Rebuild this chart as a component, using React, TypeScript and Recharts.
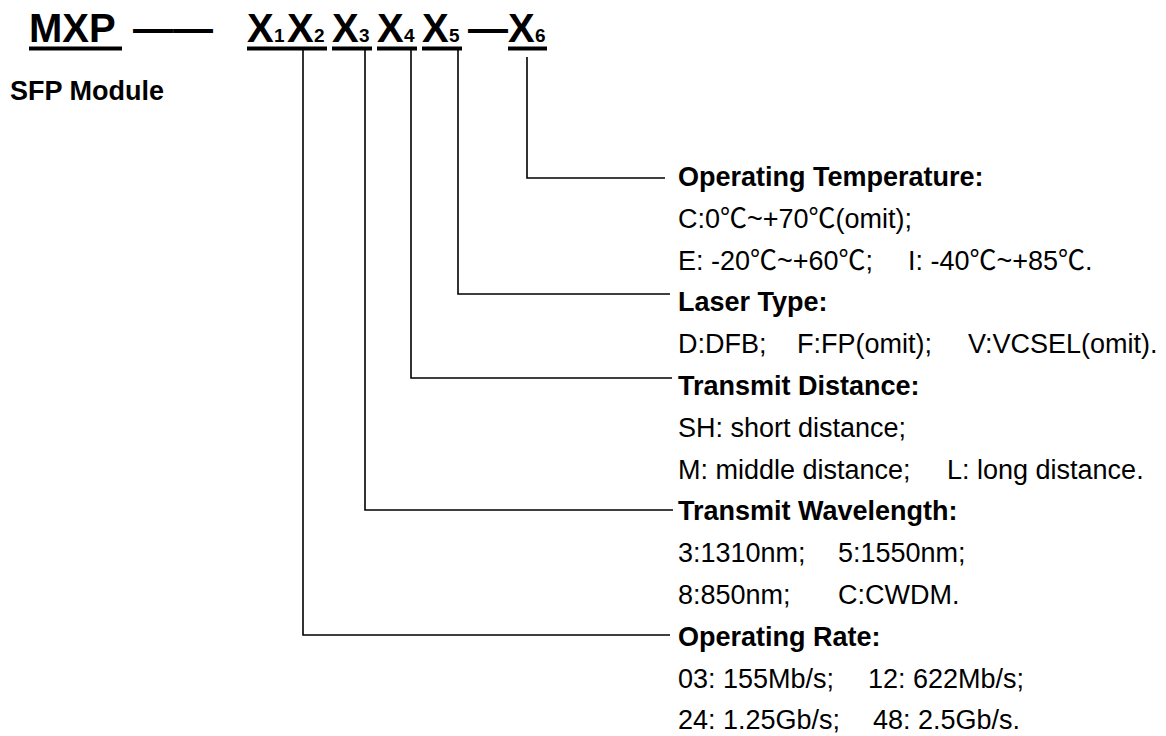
import React from 'react';
import { ScatterChart, Scatter, XAxis, YAxis } from 'recharts';

const W = 1166;
const H = 736;
const FONT = '"Liberation Sans", Arial, "Noto Sans CJK SC", sans-serif';

// ---- model-number title ----
const titleWord = 'MXP';
const titleWordX = 29;
const separators = ['——', '—'];
const separatorX = [133, 468];
const codeLetters = ['X', 'X', 'X', 'X', 'X', 'X'];
const codeSubs = ['1', '2', '3', '4', '5', '6'];
const codeLetterX = [247, 287, 332, 377, 422, 508];
const subOffset = 27;
const underlineStart = [29, 247, 332, 377, 422, 508];
const underlineEnd = [122, 327, 372, 417, 462, 547];
const titleBaseline = 42;
const underlineY = 48.5;

const subtitle = 'SFP Module';
const subtitleX = 10;
const subtitleY = 100;

// ---- description rows (right column) ----
const rowTexts: string[][] = [
  ['Operating Temperature:'],
  ['C:0℃~+70℃(omit);'],
  ['E: -20℃~+60℃;', 'I: -40℃~+85℃.'],
  ['Laser Type:'],
  ['D:DFB;', 'F:FP(omit);', 'V:VCSEL(omit).'],
  ['Transmit Distance:'],
  ['SH: short distance;'],
  ['M: middle distance;', 'L: long distance.'],
  ['Transmit Wavelength:'],
  ['3:1310nm;', '5:1550nm;'],
  ['8:850nm;', 'C:CWDM.'],
  ['Operating Rate:'],
  ['03: 155Mb/s;', '12: 622Mb/s;'],
  ['24: 1.25Gb/s;', '48: 2.5Gb/s.'],
];
const rowBold = [true, false, false, true, false, true, false, false, true, false, false, true, false, false];
const rowColumnX: number[][] = [
  [678], [678], [678, 908], [678], [678, 797, 968], [678], [678], [678, 947],
  [678], [678, 838], [678, 838], [678], [678, 868], [678, 873],
];
const rowY = [186, 228, 270, 311, 353, 395, 437, 479, 520, 562, 604, 646, 688, 729];

// ---- connectors: one per code field (X1X2, X3, X4, X5, X6) ----
const connectorX = [303, 365, 411, 458, 527];
const connectorTop = [50, 50, 50, 50, 57];
const connectorY = [635, 510, 378, 294, 178];
const connectorEnd = [670, 673, 672, 670, 665];

type TextItem = { x: number; y: number; text: string; size: number; weight: string };

const textItems: TextItem[] = [];
textItems.push({ x: titleWordX, y: titleBaseline, text: titleWord, size: 40, weight: 'bold' });
separators.forEach((s, i) => textItems.push({ x: separatorX[i], y: titleBaseline, text: s, size: 40, weight: 'bold' }));
codeLetters.forEach((l, i) => {
  textItems.push({ x: codeLetterX[i], y: titleBaseline, text: l, size: 40, weight: 'bold' });
  textItems.push({ x: codeLetterX[i] + subOffset, y: titleBaseline, text: codeSubs[i], size: 19, weight: 'bold' });
});
textItems.push({ x: subtitleX, y: subtitleY, text: subtitle, size: 27, weight: 'bold' });
rowTexts.forEach((cols, r) => {
  cols.forEach((t, c) => {
    textItems.push({
      x: rowColumnX[r][c],
      y: rowY[r],
      text: t,
      size: 27,
      weight: rowBold[r] ? 'bold' : 'normal',
    });
  });
});

const connectors = connectorX.map((cx, i) => [
  { x: cx, y: connectorTop[i] },
  { x: cx, y: connectorY[i] },
  { x: connectorEnd[i], y: connectorY[i] },
]);

const underlines = underlineStart.map((s, i) => [
  { x: s, y: underlineY },
  { x: underlineEnd[i], y: underlineY },
]);

const TextShape = (p: any) => {
  const d = p.payload as TextItem;
  return (
    <text
      x={p.cx}
      y={p.cy}
      fontSize={d.size}
      fontWeight={d.weight}
      fontFamily={FONT}
      fill="#000"
      style={{ whiteSpace: 'pre' }}
    >
      {d.text}
    </text>
  );
};

const Empty = () => <g />;

export default function App() {
  return (
    <div style={{ position: 'absolute', left: 0, top: 0, width: W, height: H, background: '#fff' }}>
      <ScatterChart width={W} height={H} margin={{ top: 0, right: 0, bottom: 0, left: 0 }}>
        <XAxis type="number" dataKey="x" domain={[0, W]} hide allowDataOverflow />
        <YAxis type="number" dataKey="y" domain={[0, H]} reversed hide allowDataOverflow />
        {connectors.map((pts, i) => (
          <Scatter
            key={'c' + i}
            data={pts}
            line={{ stroke: '#000', strokeWidth: 1.6 }}
            lineType="joint"
            shape={Empty}
            isAnimationActive={false}
          />
        ))}
        {underlines.map((pts, i) => (
          <Scatter
            key={'u' + i}
            data={pts}
            line={{ stroke: '#000', strokeWidth: 4 }}
            lineType="joint"
            shape={Empty}
            isAnimationActive={false}
          />
        ))}
        <Scatter data={textItems} shape={TextShape} isAnimationActive={false} />
      </ScatterChart>
    </div>
  );
}
